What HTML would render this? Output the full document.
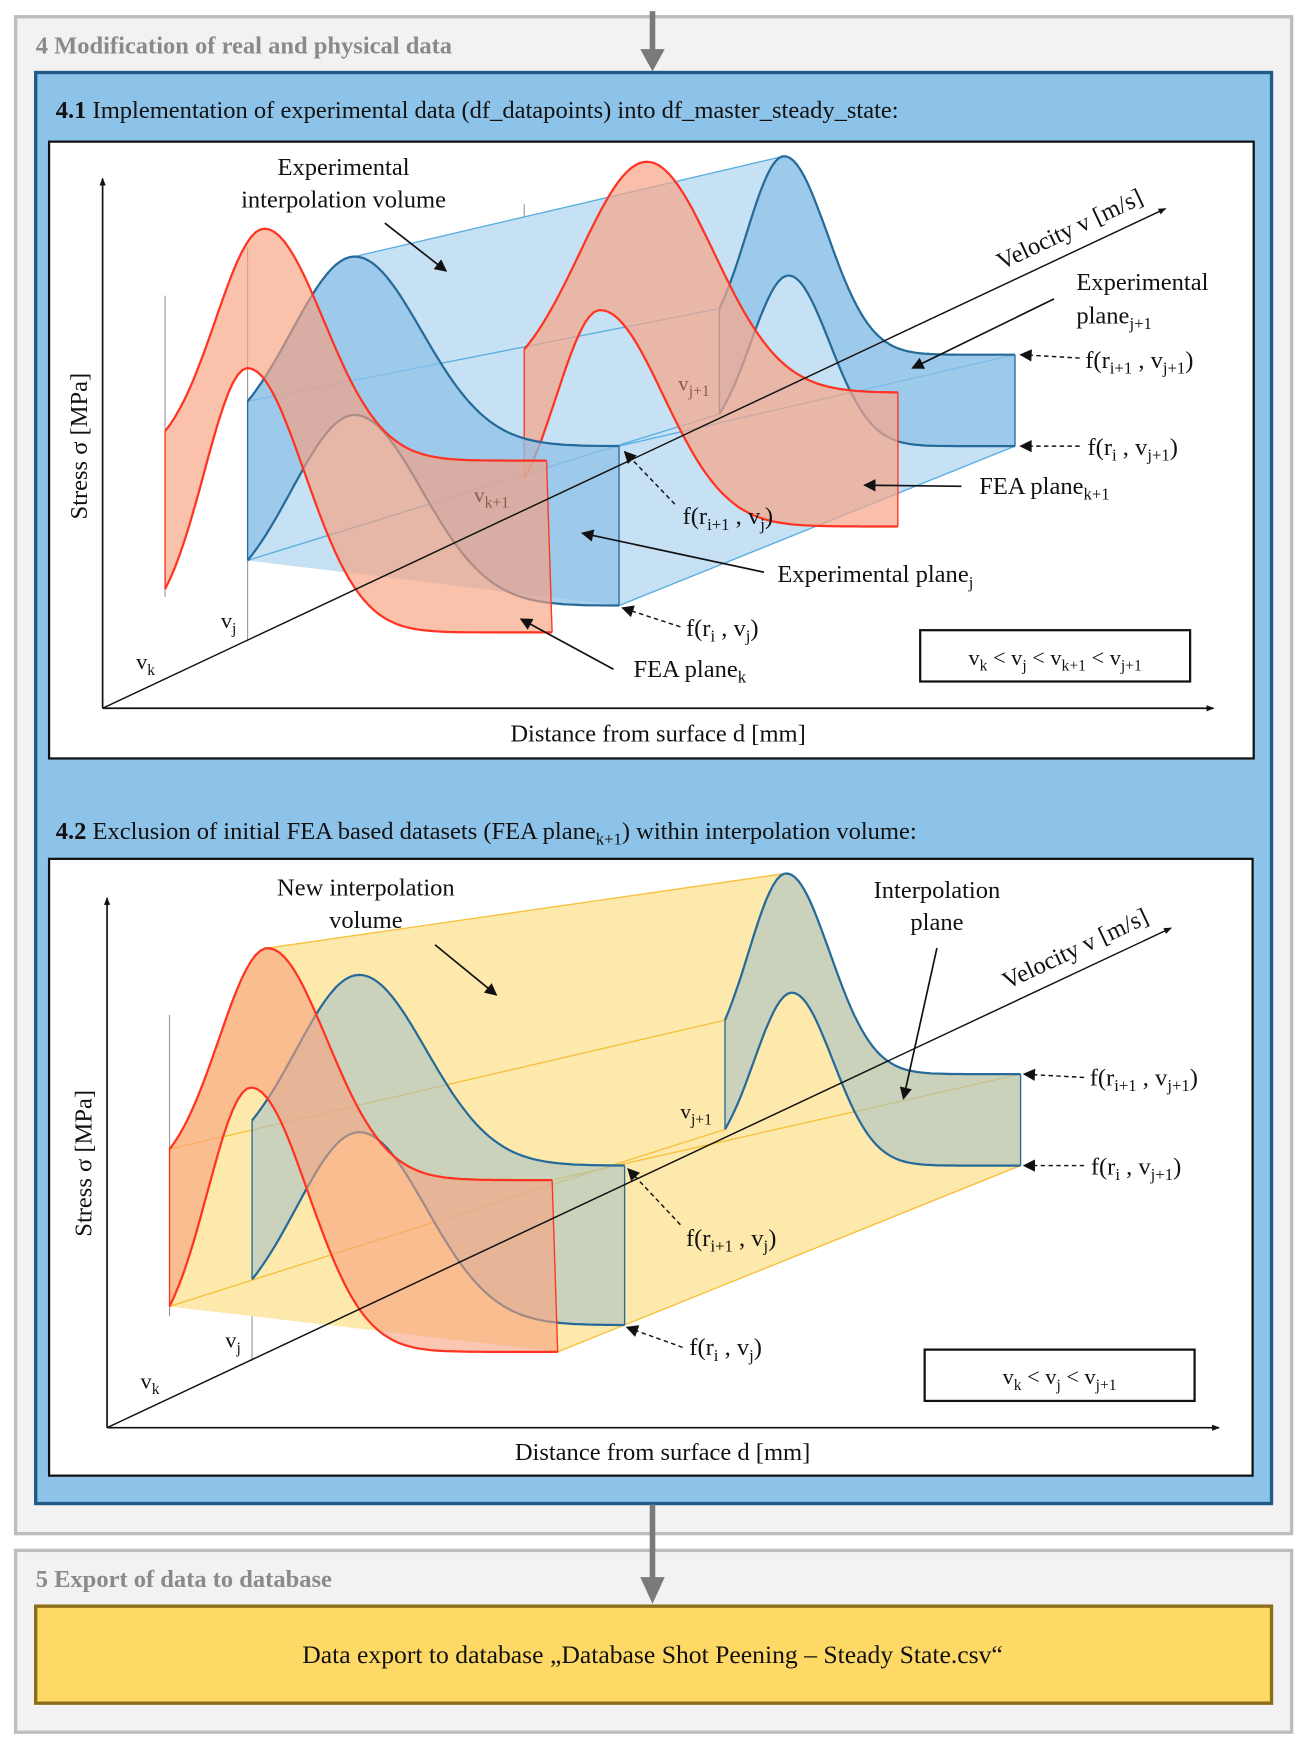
<!DOCTYPE html>
<html><head><meta charset="utf-8"><style>
html,body{margin:0;padding:0;background:#fff}
svg{display:block}
text{font-family:"Liberation Serif",serif;fill:#111}
</style></head><body>
<svg id="root" width="1305" height="1740" viewBox="0 0 1170 1560" preserveAspectRatio="none">
<defs>
<marker id="ah" viewBox="0 0 10 10" refX="9" refY="5" markerWidth="9" markerHeight="7" orient="auto-start-reverse" markerUnits="userSpaceOnUse"><path d="M0,1 L10,5 L0,9 z" fill="#111"/></marker>
<marker id="ahb" viewBox="0 0 10 10" refX="9" refY="5" markerWidth="22" markerHeight="11" orient="auto" markerUnits="userSpaceOnUse"><path d="M0,0 L10,5 L0,10 z" fill="#111"/></marker>
</defs>
<rect x="14" y="15" width="1144" height="1360" fill="#f2f2f2" stroke="#bdbdbd" stroke-width="3"/>
<text x="32" y="48" font-size="22" font-weight="bold" style="fill:#8a8a8a">4  Modification of real and physical data</text>
<line x1="585" y1="10" x2="585" y2="48" stroke="#7a7a7a" stroke-width="5"/>
<path d="M574,44 L596,44 L585,64 z" fill="#7a7a7a"/>
<rect x="32" y="65" width="1108" height="1283" fill="#8dc3e8" stroke="#1f5a88" stroke-width="3"/>
<text x="50" y="106" font-size="22"><tspan font-weight="bold">4.1</tspan>  Implementation of experimental data (df_datapoints) into df_master_steady_state:</text>
<rect x="44" y="127" width="1080" height="553" fill="#fff" stroke="#111" stroke-width="2"/>
<text x="50" y="752" font-size="22"><tspan font-weight="bold">4.2</tspan>  Exclusion of initial FEA based datasets (FEA plane<tspan dy="5" font-size="15">k+1</tspan><tspan dy="-5">) within interpolation volume:</tspan></text>
<rect x="44" y="770" width="1079" height="553" fill="#fff" stroke="#111" stroke-width="2"/>
<g id="chart1"></g>
<g id="chart2"></g>

<g font-size="22">
<text x="308" y="157" text-anchor="middle">Experimental</text>
<text x="308" y="186" text-anchor="middle">interpolation volume</text>
<line x1="345" y1="200" x2="400" y2="243" stroke="#111" stroke-width="1.5" marker-end="url(#ahb)"/>
<text transform="translate(962,212) rotate(-25.2)" text-anchor="middle">Velocity v [m/s]</text>
<text x="965" y="260">Experimental</text>
<text x="965" y="290">plane<tspan dy="5" font-size="15">j+1</tspan></text>
<line x1="945" y1="268" x2="818" y2="330" stroke="#111" stroke-width="1.5" marker-end="url(#ahb)"/>
<text x="973" y="330">f(r<tspan dy="5" font-size="15">i+1</tspan><tspan dy="-5"> , v</tspan><tspan dy="5" font-size="15">j+1</tspan><tspan dy="-5">)</tspan></text>
<line x1="968" y1="321" x2="915" y2="318" stroke="#111" stroke-width="1.3" stroke-dasharray="4,3" marker-end="url(#ahb)"/>
<text x="975" y="408">f(r<tspan dy="5" font-size="15">i</tspan><tspan dy="-5"> , v</tspan><tspan dy="5" font-size="15">j+1</tspan><tspan dy="-5">)</tspan></text>
<line x1="968" y1="400" x2="915" y2="400" stroke="#111" stroke-width="1.3" stroke-dasharray="4,3" marker-end="url(#ahb)"/>
<text x="878" y="443">FEA plane<tspan dy="5" font-size="15">k+1</tspan></text>
<line x1="862" y1="436" x2="775" y2="435" stroke="#111" stroke-width="1.5" marker-end="url(#ahb)"/>
<text x="608" y="350" font-size="19" style="fill:#8a5a4a">v<tspan dy="5" font-size="14">j+1</tspan></text>
<text x="425" y="450" font-size="19" style="fill:#8a5a4a">v<tspan dy="5" font-size="14">k+1</tspan></text>
<text x="612" y="470">f(r<tspan dy="5" font-size="15">i+1</tspan><tspan dy="-5"> , v</tspan><tspan dy="5" font-size="15">j</tspan><tspan dy="-5">)</tspan></text>
<line x1="605" y1="452" x2="560" y2="405" stroke="#111" stroke-width="1.3" stroke-dasharray="4,3" marker-end="url(#ahb)"/>
<text x="697" y="522">Experimental plane<tspan dy="5" font-size="15">j</tspan></text>
<line x1="685" y1="513" x2="522" y2="478" stroke="#111" stroke-width="1.5" marker-end="url(#ahb)"/>
<text x="615" y="570">f(r<tspan dy="5" font-size="15">i</tspan><tspan dy="-5"> , v</tspan><tspan dy="5" font-size="15">j</tspan><tspan dy="-5">)</tspan></text>
<line x1="610" y1="562" x2="558" y2="545" stroke="#111" stroke-width="1.3" stroke-dasharray="4,3" marker-end="url(#ahb)"/>
<text x="568" y="607">FEA plane<tspan dy="5" font-size="15">k</tspan></text>
<line x1="550" y1="600" x2="467" y2="555" stroke="#111" stroke-width="1.5" marker-end="url(#ahb)"/>
<text x="198" y="563" font-size="20">v<tspan dy="5" font-size="14">j</tspan></text>
<text x="122" y="600" font-size="20">v<tspan dy="5" font-size="14">k</tspan></text>
<rect x="825" y="565" width="242" height="46" fill="#fff" stroke="#111" stroke-width="2"/>
<text x="946" y="596" text-anchor="middle" font-size="20">v<tspan dy="5" font-size="14">k</tspan><tspan dy="-5"> &lt; v</tspan><tspan dy="5" font-size="14">j</tspan><tspan dy="-5"> &lt; v</tspan><tspan dy="5" font-size="14">k+1</tspan><tspan dy="-5"> &lt; v</tspan><tspan dy="5" font-size="14">j+1</tspan></text>
<text x="590" y="665" text-anchor="middle">Distance from surface d [mm]</text>
<text transform="translate(78,400) rotate(-90)" text-anchor="middle">Stress σ [MPa]</text>
</g>

<g font-size="22">
<text x="328" y="803" text-anchor="middle">New interpolation</text>
<text x="328" y="832" text-anchor="middle">volume</text>
<line x1="390" y1="847" x2="445" y2="892" stroke="#111" stroke-width="1.5" marker-end="url(#ahb)"/>
<text x="840" y="805" text-anchor="middle">Interpolation</text>
<text x="840" y="834" text-anchor="middle">plane</text>
<line x1="840" y1="850" x2="810" y2="985" stroke="#111" stroke-width="1.5" marker-end="url(#ahb)"/>
<text transform="translate(967,857) rotate(-25.2)" text-anchor="middle">Velocity v [m/s]</text>
<text x="977" y="973">f(r<tspan dy="5" font-size="15">i+1</tspan><tspan dy="-5"> , v</tspan><tspan dy="5" font-size="15">j+1</tspan><tspan dy="-5">)</tspan></text>
<line x1="972" y1="966" x2="918" y2="963" stroke="#111" stroke-width="1.3" stroke-dasharray="4,3" marker-end="url(#ahb)"/>
<text x="978" y="1053">f(r<tspan dy="5" font-size="15">i</tspan><tspan dy="-5"> , v</tspan><tspan dy="5" font-size="15">j+1</tspan><tspan dy="-5">)</tspan></text>
<line x1="972" y1="1045" x2="918" y2="1045" stroke="#111" stroke-width="1.3" stroke-dasharray="4,3" marker-end="url(#ahb)"/>
<text x="610" y="1003" font-size="19">v<tspan dy="5" font-size="14">j+1</tspan></text>
<text x="615" y="1117">f(r<tspan dy="5" font-size="15">i+1</tspan><tspan dy="-5"> , v</tspan><tspan dy="5" font-size="15">j</tspan><tspan dy="-5">)</tspan></text>
<line x1="610" y1="1098" x2="563" y2="1048" stroke="#111" stroke-width="1.3" stroke-dasharray="4,3" marker-end="url(#ahb)"/>
<text x="618" y="1215">f(r<tspan dy="5" font-size="15">i</tspan><tspan dy="-5"> , v</tspan><tspan dy="5" font-size="15">j</tspan><tspan dy="-5">)</tspan></text>
<line x1="612" y1="1208" x2="562" y2="1190" stroke="#111" stroke-width="1.3" stroke-dasharray="4,3" marker-end="url(#ahb)"/>
<text x="202" y="1208" font-size="20">v<tspan dy="5" font-size="14">j</tspan></text>
<text x="126" y="1245" font-size="20">v<tspan dy="5" font-size="14">k</tspan></text>
<rect x="829" y="1210" width="242" height="46" fill="#fff" stroke="#111" stroke-width="2"/>
<text x="950" y="1241" text-anchor="middle" font-size="20">v<tspan dy="5" font-size="14">k</tspan><tspan dy="-5"> &lt; v</tspan><tspan dy="5" font-size="14">j</tspan><tspan dy="-5"> &lt; v</tspan><tspan dy="5" font-size="14">j+1</tspan></text>
<text x="594" y="1309" text-anchor="middle">Distance from surface d [mm]</text>
<text transform="translate(82,1043) rotate(-90)" text-anchor="middle">Stress σ [MPa]</text>
</g>

<rect x="14" y="1390" width="1144" height="163" fill="#f2f2f2" stroke="#bdbdbd" stroke-width="3"/>
<line x1="585" y1="1349" x2="585" y2="1418" stroke="#7a7a7a" stroke-width="5"/>
<path d="M574,1414 L596,1414 L585,1438 z" fill="#7a7a7a"/>
<text x="32" y="1423" font-size="22" font-weight="bold" style="fill:#8a8a8a">5  Export of data to database</text>
<rect x="32" y="1440" width="1108" height="87" fill="#fed966" stroke="#8c6d1a" stroke-width="3"/>
<text x="585" y="1491" font-size="23" text-anchor="middle">Data export to database „Database Shot Peening – Steady State.csv“</text>
</svg>
<script>
// curve params: [x0, x1, peakX, baseY, amplitude, widthLeft, widthRight]
const c1FeaKTop = [148, 490, 237, 413, 208, 62, 75];
const c1FeaKBot = [148, 495, 222, 567, 237, 55, 72];
const c1PlaneJTop = [222, 555, 318, 400, 170, 80, 85];
const c1PlaneJBot = [222, 555, 318, 543, 171, 80, 85];
const c1PlaneJ1Top = [645, 910, 703, 318, 178, 48, 55];
const c1PlaneJ1Bot = [645, 910, 707, 400, 153, 48, 52];
const c1FeaK1Top = [470, 805, 580, 352, 207, 85, 85];
const c1FeaK1Bot = [470, 805, 538, 472, 194, 55, 80];
const c2FeaKTop = [152, 495, 240, 1058, 208, 62, 75];
const c2FeaKBot = [152, 500, 225, 1212, 237, 55, 72];
const c2PlaneJTop = [226, 560, 322, 1045, 171, 80, 85];
const c2PlaneJBot = [226, 560, 322, 1188, 173, 80, 85];
const c2PlaneJ1Top = [650, 915, 705, 963, 180, 48, 55];
const c2PlaneJ1Bot = [650, 915, 710, 1045, 155, 48, 52];

const NS = 'http://www.w3.org/2000/svg';
function curve(p, n) {
  const pts = [];
  for (let i = 0; i <= n; i++) {
    const x = p[0] + (p[1] - p[0]) * i / n;
    const w = x < p[2] ? p[5] : p[6];
    pts.push([x, p[3] - p[4] * Math.exp(-Math.pow((x - p[2]) / w, 2))]);
  }
  return pts;
}
function el(parent, tag, attrs) {
  const e = document.createElementNS(NS, tag);
  for (const k in attrs) e.setAttribute(k, attrs[k]);
  parent.appendChild(e);
  return e;
}
function ptsStr(a) { return a.map(p => p[0].toFixed(1) + ',' + p[1].toFixed(1)).join(' '); }
function plane(g, top, bot, fill, op, stroke, name) {
  const t = curve(top, 80), b = curve(bot, 80);
  const poly = el(g, 'polygon', {points: ptsStr(t.concat(b.slice().reverse())), fill: fill, 'fill-opacity': op, stroke: 'none'});
  
  
  const s = el(g, 'polyline', {points: ptsStr(t), fill: 'none', stroke: stroke, 'stroke-width': 2});
  
  
  const s2 = el(g, 'polyline', {points: ptsStr(b), fill: 'none', stroke: stroke, 'stroke-width': 2});
  
  
  el(g, 'line', {x1: t[0][0], y1: t[0][1], x2: b[0][0], y2: b[0][1], stroke: stroke, 'stroke-width': 1.2});
  el(g, 'line', {x1: t[80][0], y1: t[80][1], x2: b[80][0], y2: b[80][1], stroke: stroke, 'stroke-width': 1.2});
}
function peak(p) { return [p[2], p[3] - p[4]]; }
function first(p) { return curve(p, 80)[0]; }
function last(p) { return curve(p, 80)[80]; }
function volume(g, leftTop, leftBot, rightTop, rightBot, fill, stroke, name) {
  const pk1 = peak(leftTop), pk2 = peak(rightTop);
  const lt = curve(leftTop, 80).filter(p => p[0] <= pk1[0]);
  const rt = curve(rightTop, 80).filter(p => p[0] >= pk2[0]);
  const pts = lt.concat([pk1, pk2]).concat(rt).concat([last(rightBot), last(leftBot), first(leftBot)]);
  const poly = el(g, 'polygon', {points: ptsStr(pts), fill: fill, stroke: 'none'});
  
  
  const edges = [[pk1, pk2], [first(leftTop), first(rightTop)], [first(leftBot), first(rightBot)], [last(leftTop), last(rightTop)], [last(leftBot), last(rightBot)]];
  edges.forEach(e => el(g, 'line', {x1: e[0][0], y1: e[0][1], x2: e[1][0], y2: e[1][1], stroke: stroke, 'stroke-width': 1.2}));
}
function axes(g, ox, oy, yTop, xRight, vx, vy) {
  const a1 = el(g, 'line', {x1: ox, y1: oy, x2: ox, y2: yTop, stroke: '#111', 'stroke-width': 1.5, 'marker-end': 'url(#ah)'});
   
  const a2 = el(g, 'line', {x1: ox, y1: oy, x2: xRight, y2: oy, stroke: '#111', 'stroke-width': 1.5, 'marker-end': 'url(#ah)'});
   
  const a3 = el(g, 'line', {x1: ox, y1: oy, x2: vx, y2: vy, stroke: '#111', 'stroke-width': 1.3, 'marker-end': 'url(#ah)'});
   
}
function vline(g, x, y1, y2) { el(g, 'line', {x1: x, y1: y1, x2: x, y2: y2, stroke: '#999', 'stroke-width': 1}); }

const g1 = document.getElementById('chart1');
vline(g1, 148, 265, 535); vline(g1, 222, 222, 575); vline(g1, 470, 183, 410); vline(g1, 645, 168, 370);
volume(g1, c1PlaneJTop, c1PlaneJBot, c1PlaneJ1Top, c1PlaneJ1Bot, '#c6e1f4', '#5aaee0', 'experimental-volume');
plane(g1, c1PlaneJ1Top, c1PlaneJ1Bot, '#8fc0e8', 0.75, '#256a98', 'experimental-plane-j1');
plane(g1, c1FeaK1Top, c1FeaK1Bot, '#f6a68a', 0.72, '#ff3322', 'fea-plane-k1');
plane(g1, c1PlaneJTop, c1PlaneJBot, '#8fc0e8', 0.75, '#256a98', 'experimental-plane-j');
plane(g1, c1FeaKTop, c1FeaKBot, '#f8a07e', 0.65, '#ff3322', 'fea-plane-k');
axes(g1, 92, 635, 160, 1088, 1045, 187);

const g2 = document.getElementById('chart2');
vline(g2, 152, 910, 1180); vline(g2, 226, 872, 1220); vline(g2, 650, 812, 1008);
volume(g2, c2FeaKTop, c2FeaKBot, c2PlaneJ1Top, c2PlaneJ1Bot, '#fde9ab', '#f7c03a', 'new-interpolation-volume');
plane(g2, c2PlaneJ1Top, c2PlaneJ1Bot, '#a9c3c6', 0.6, '#256a98', 'interpolation-plane-j1');
plane(g2, c2PlaneJTop, c2PlaneJBot, '#a9c3c6', 0.6, '#256a98', 'interpolation-plane-j');
plane(g2, c2FeaKTop, c2FeaKBot, '#f8a07e', 0.6, '#ff3322', 'fea-plane-k-2');
axes(g2, 96, 1280, 805, 1093, 1050, 832);
</script>
</body></html>
